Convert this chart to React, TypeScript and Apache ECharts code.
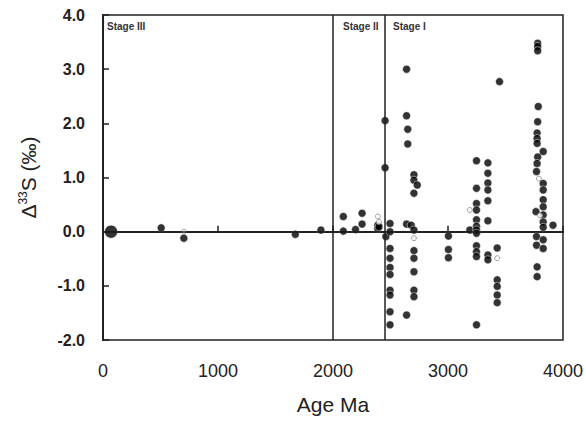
import React, { useEffect, useRef } from "react";
import * as echarts from "echarts";

// Age (Ma) and Δ33S (‰) values
const largePoints: number[][] = [[70, 0.0]];

const stage3Points: number[][] = [
  [506, 0.07], [703, -0.12], [1672, -0.05], [1895, 0.03],
];

const stage2Points: number[][] = [
  [2090, 0.28], [2090, 0.01], [2196, 0.04], [2253, 0.34], [2253, 0.14],
  [2390, 0.12], [2390, 0.06],
];

const stage1Points: number[][] = [
  [2453, 2.05], [2453, 1.18], [2400, 0.09], [2460, -0.09], [2496, 0.15], [2496, 0.0],
  [2496, -0.31], [2496, -0.49], [2496, -0.66], [2496, -0.79], [2496, -1.08],
  [2496, -1.17], [2496, -1.48], [2496, -1.72],
  [2640, 3.0], [2640, 2.14], [2650, 1.89], [2650, 1.62], [2640, 0.14], [2640, -1.54], [2680, 0.12],
  [2704, 1.05], [2704, 0.95], [2733, 0.86], [2704, 0.71], [2704, 0.03], [2704, -0.35],
  [2704, -0.49], [2704, -0.74], [2704, -1.08], [2704, -1.2],
  [3004, -0.08], [3004, -0.33], [3004, -0.48],
  [3190, 0.03],
  [3248, 1.31], [3248, 0.8], [3248, 0.52], [3248, 0.4], [3248, 0.22], [3248, 0.1],
  [3248, 0.03], [3248, -0.03], [3248, -0.26], [3248, -0.37], [3248, -0.46], [3248, -1.72],
  [3347, 1.27], [3347, 1.08], [3347, 0.9], [3347, 0.77], [3347, 0.57], [3347, 0.2],
  [3347, -0.43], [3347, -0.52],
  [3428, -0.3], [3428, -0.89], [3428, -1.01], [3428, -1.17], [3428, -1.31],
  [3448, 2.77],
  [3780, 3.48], [3780, 3.42], [3780, 3.34], [3785, 2.31], [3780, 2.03], [3775, 1.82],
  [3775, 1.72], [3775, 1.63], [3780, 1.38], [3775, 1.26], [3770, 1.11], [3765, 0.37],
  [3770, -0.09], [3770, -0.25], [3775, -0.65], [3775, -0.83],
  [3828, 1.48], [3828, 0.89], [3828, 0.77], [3828, 0.59], [3828, 0.46], [3828, 0.31],
  [3828, 0.18], [3828, 0.08], [3828, -0.15], [3828, -0.31],
  [3913, 0.12],
];

const hollowPoints: number[][] = [
  [703, 0.0], [2390, 0.28], [2400, 0.18], [2704, -0.12], [3190, 0.4],
  [3428, -0.49], [3790, 0.98], [3800, 0.3],
];

const xTicks = { min: 0, max: 4000, interval: 1000 };
const yTicks = { min: -2, max: 4, interval: 1 };
const stageBoundaries = [2000, 2450];
const stageLabels = ["Stage III", "Stage II", "Stage I"];

export default function App() {
  const ref = useRef<HTMLDivElement>(null);

  useEffect(() => {
    if (!ref.current) return;
    const chart = echarts.init(ref.current, undefined, { renderer: "svg" });
    const font = "Liberation Sans, Arial, sans-serif";
    const dot = {
      type: "scatter" as const,
      symbol: "circle",
      symbolSize: 8,
      z: 3,
      itemStyle: { color: "#000", borderColor: "#fff", borderWidth: 0.6 },
      silent: true,
    };
    chart.setOption({
      animation: false,
      backgroundColor: "#fff",
      grid: {
        left: 103, right: 17, top: 15, bottom: 83,
        show: true, borderColor: "#222", borderWidth: 1.5,
      },
      xAxis: {
        type: "value",
        min: xTicks.min, max: xTicks.max, interval: xTicks.interval,
        name: "Age Ma",
        nameLocation: "middle",
        nameGap: 54,
        nameTextStyle: { fontFamily: font, fontSize: 21, color: "#222" },
        axisLine: { show: true, lineStyle: { color: "#222", width: 2 } },
        axisTick: { show: true, inside: true, length: 6, lineStyle: { color: "#222", width: 1.5 } },
        axisLabel: {
          fontFamily: font, fontSize: 18, color: "#222", margin: 22,
          formatter: (v: number) => String(v),
        },
        splitLine: { show: false },
      },
      yAxis: {
        type: "value",
        min: yTicks.min, max: yTicks.max, interval: yTicks.interval,
        name: "Δ{sup|33}S (‰)",
        nameLocation: "middle",
        nameGap: 64,
        nameTextStyle: {
          fontFamily: font, fontSize: 21, color: "#222",
          rich: { sup: { fontFamily: font, fontSize: 12, color: "#222", verticalAlign: "top", padding: [0, 0, 10, 0] } },
        },
        axisLine: { show: true, lineStyle: { color: "#222", width: 2 } },
        axisTick: { show: true, inside: true, length: 6, lineStyle: { color: "#222", width: 1.5 } },
        axisLabel: {
          fontFamily: font, fontSize: 16, fontWeight: "bold", color: "#222", margin: 18,
          formatter: (v: number) => v.toFixed(1),
        },
        splitLine: { show: false },
      },
      graphic: [
        { type: "text", left: 107, top: 21, style: { text: stageLabels[0], font: "bold 10px " + font, fill: "#333" } },
        { type: "text", left: 343, top: 21, style: { text: stageLabels[1], font: "bold 10px " + font, fill: "#333" } },
        { type: "text", left: 393, top: 21, style: { text: stageLabels[2], font: "bold 10px " + font, fill: "#333" } },
      ],
      series: [
        {
          type: "scatter",
          data: [],
          z: 1,
          silent: true,
          markLine: {
            silent: true,
            symbol: ["none", "none"],
            label: { show: false },
            lineStyle: { color: "#222", width: 1.5, type: "solid" },
            data: [
              { yAxis: 0 },
              ...stageBoundaries.map((b) => ({ xAxis: b })),
            ],
          },
        },
        { ...dot, data: largePoints, symbolSize: 13 },
        { ...dot, data: stage3Points },
        { ...dot, data: stage2Points },
        { ...dot, data: stage1Points },
        {
          type: "scatter",
          data: hollowPoints,
          symbol: "circle",
          symbolSize: 5,
          z: 4,
          silent: true,
          itemStyle: { color: "#fff", borderColor: "#888", borderWidth: 1 },
        },
      ],
    });
    return () => chart.dispose();
  }, []);

  return (
    <div
      ref={ref}
      style={{ position: "absolute", left: 0, top: 0, width: 586, height: 423 }}
    />
  );
}
